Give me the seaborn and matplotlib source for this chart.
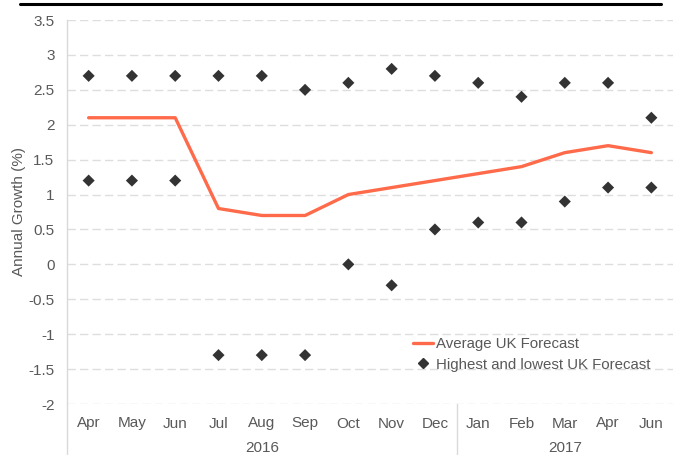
import matplotlib
matplotlib.use("Agg")
import matplotlib.pyplot as plt
import seaborn as sns
import pandas as pd
from matplotlib.lines import Line2D

months = ["Apr", "May", "Jun", "Jul", "Aug", "Sep", "Oct", "Nov", "Dec",
          "Jan", "Feb", "Mar", "Apr", "Jun"]
years = ["2016", "2017"]
year_counts = [9, 5]
average = [2.1, 2.1, 2.1, 0.8, 0.7, 0.7, 1.0, 1.1, 1.2, 1.3, 1.4, 1.6, 1.7, 1.6]
highest = [2.7, 2.7, 2.7, 2.7, 2.7, 2.5, 2.6, 2.8, 2.7, 2.6, 2.4, 2.6, 2.6, 2.1]
lowest = [1.2, 1.2, 1.2, -1.3, -1.3, -1.3, 0.0, -0.3, 0.5, 0.6, 0.6, 0.9, 1.1, 1.1]

sns.set_theme(style="white")
plt.rcParams['font.family'] = ['Liberation Sans', 'DejaVu Sans']

FS = 11
TXT = "#595959"

idx = list(range(len(months)))
df = pd.DataFrame({"i": idx, "avg": average, "hi": highest, "lo": lowest})
pts = pd.DataFrame({"i": idx + idx, "v": highest + lowest})

fig = plt.figure(figsize=(6.73, 4.55), dpi=100)
ax = fig.add_axes([67 / 673, 1 - 404 / 455, 1 - 67 / 673, (404 - 20) / 455])

grid_c = "#dedede"
for yv in [-2, -1.5, -1, -0.5, 0, 0.5, 1, 1.5, 2, 2.5, 3, 3.5]:
    ax.axhline(yv, color=grid_c, lw=1, ls=(0, (6, 3)), zorder=0)

sns.lineplot(data=df, x="i", y="avg", ax=ax, color="#FF6B4A", lw=2.4, zorder=3)
sns.scatterplot(data=pts, x="i", y="v", ax=ax, marker="D", color="#333333",
                s=38, edgecolor="none", zorder=4)

ax.set_xlim(-0.5, len(months) - 0.5)
ax.set_ylim(-2, 3.5)
ax.set_yticks([-2, -1.5, -1, -0.5, 0, 0.5, 1, 1.5, 2, 2.5, 3, 3.5])
ax.set_yticklabels(["-2", "-1.5", "-1", "-0.5", "0", "0.5", "1", "1.5", "2",
                    "2.5", "3", "3.5"])
ax.tick_params(axis="y", length=0, pad=9, labelsize=FS, labelcolor=TXT)
ax.set_xticks(idx)
ax.set_xticklabels(months)
ax.tick_params(axis="x", length=0, pad=9, labelsize=FS, labelcolor=TXT)
ax.set_xlabel("")
ax.set_ylabel("Annual Growth (%)", fontsize=FS, color=TXT, labelpad=2)
for s in ["top", "right", "bottom"]:
    ax.spines[s].set_visible(False)
ax.spines["left"].set_color("#d9d9d9")
ax.spines["left"].set_linewidth(1)

# extended left spine and year separator below the axes
trans = ax.get_xaxis_transform()
ax.plot([-0.5, -0.5], [0, -0.14], transform=trans, color="#d9d9d9", lw=1,
        clip_on=False)
ax.plot([8.5, 8.5], [0, -0.14], transform=trans, color="#d9d9d9", lw=1,
        clip_on=False)
start = 0
for yr, n in zip(years, year_counts):
    center = start + (n - 1) / 2
    ax.text(center, -0.115, yr, transform=trans, ha="center", va="center",
            fontsize=FS, color=TXT)
    start += n

handles = [Line2D([0], [0], color="#FF6B4A", lw=2.4),
           Line2D([0], [0], marker="D", color="#333333", lw=0, markersize=5)]
ax.legend(handles, ["Average UK Forecast", "Highest and lowest UK Forecast"],
          loc="upper left", bbox_to_anchor=(0.571, 0.175), frameon=False,
          fontsize=10.8, handlelength=1.3, handletextpad=0.2, labelspacing=0.45,
          labelcolor=TXT, borderaxespad=0, borderpad=0)

fig.add_artist(Line2D([20 / 673, 661 / 673], [1 - 4 / 455, 1 - 4 / 455],
                      color="black", lw=2.2))

fig.savefig("out.png", dpi=100)
